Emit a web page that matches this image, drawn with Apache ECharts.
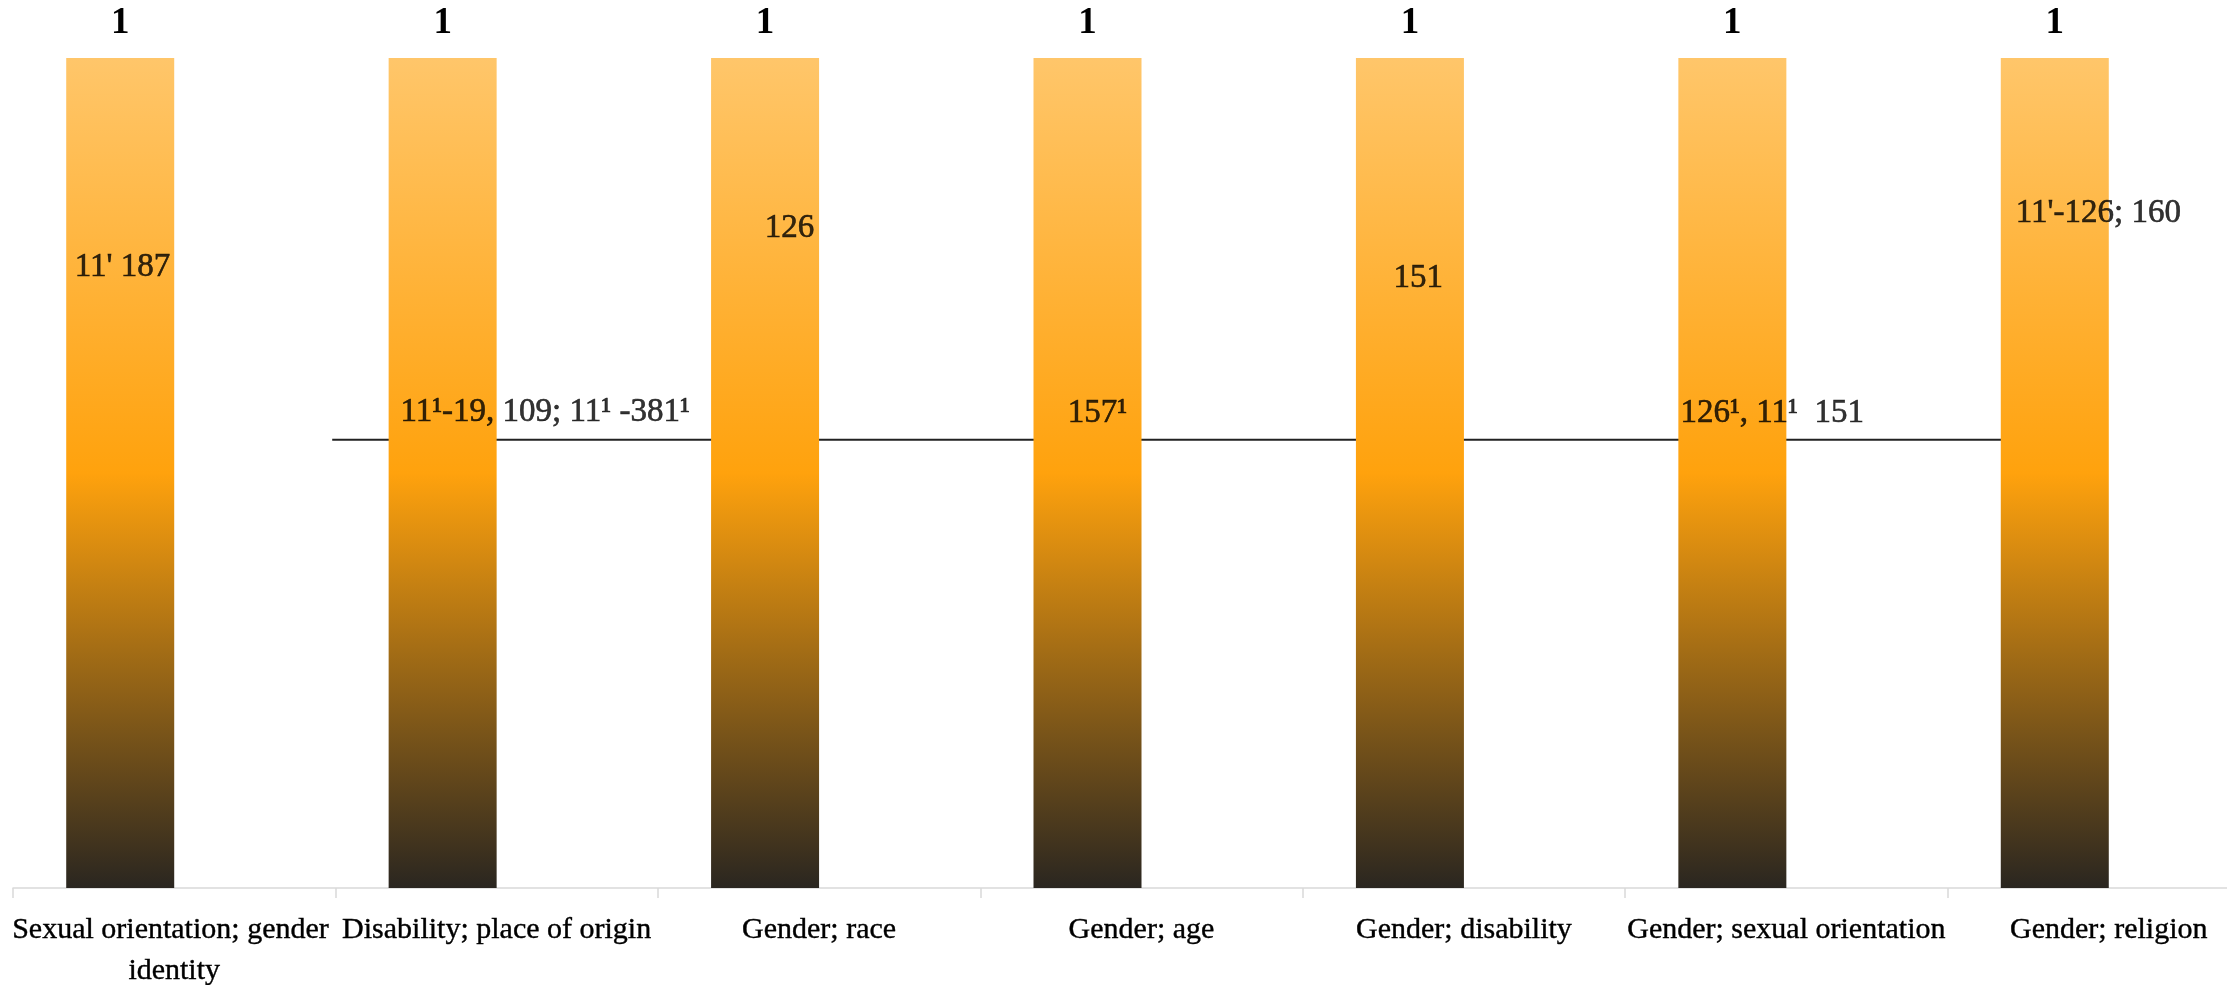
<!DOCTYPE html>
<html>
<head>
<meta charset="utf-8">
<script src="https://cdn.jsdelivr.net/npm/echarts@6/dist/echarts.min.js"></script>
<style>html,body{margin:0;padding:0;background:#fff;overflow:hidden}#c{width:2227px;height:985px}</style>
</head>
<body>
<div id="c"></div>
<script>
// ---- data ----
var categories = ['Sexual orientation; gender identity', 'Disability; place of origin', 'Gender; race', 'Gender; age', 'Gender; disability', 'Gender; sexual orientation', 'Gender; religion'];
var barValues = [1, 1, 1, 1, 1, 1, 1];
var noteTexts = ["11' 187", "11¹-19, 109; 11¹ -381¹", "126", "157¹", "151", "126¹, 11¹  151", "11'-126; 160"];
var refLineValue = 0.54;

// ---- layout (annotation anchors in category units / axis units) ----
var noteX = [0.19, 1.20, 2.33, 3.27, 4.28, 5.17, 6.21];
var noteY = [0.748, 0.573, 0.795, 0.572, 0.735, 0.572, 0.813];
var refLineSpan = [0.99, 6.3];

var FONT = '"Liberation Serif", "DejaVu Serif", serif';
var chart = echarts.init(document.getElementById('c'), null, {renderer: 'canvas'});

var notesData = noteTexts.map(function (t, i) { return {value: [noteX[i], noteY[i]], name: t}; });

chart.setOption({
  animation: false,
  backgroundColor: '#ffffff',
  grid: {left: 13, right: -43, top: 58, bottom: 97, containLabel: false, outerBoundsMode: 'none'},
  xAxis: [{
    type: 'category',
    data: categories,
    boundaryGap: true,
    axisLine: {show: true, lineStyle: {color: '#D9D9D9', width: 1.5}},
    axisTick: {show: true, length: 10, lineStyle: {color: '#D9D9D9', width: 1.5}},
    axisLabel: {
      interval: 0, color: '#000', fontFamily: FONT, fontSize: 30, lineHeight: 41, margin: 22,
      width: 330, overflow: 'break', textBorderColor: '#000', textBorderWidth: 0.4
    },
    splitLine: {show: false}
  }, {
    type: 'value', min: 0, max: 7, show: false
  }],
  yAxis: {type: 'value', min: 0, max: 1, show: false, splitLine: {show: false}},
  series: [{
    type: 'line',
    xAxisIndex: 1,
    z: 1,
    symbol: 'none',
    silent: true,
    data: [[refLineSpan[0], refLineValue], [refLineSpan[1], refLineValue]],
    lineStyle: {color: '#222', width: 2}
  }, {
    type: 'bar',
    z: 2,
    data: barValues,
    barWidth: 108,
    barGap: '0%',
    itemStyle: {
      color: new echarts.graphic.LinearGradient(0, 0, 0, 1, [
        {offset: 0, color: '#FFC66A'},
        {offset: 0.5, color: '#FFA20D'},
        {offset: 1, color: '#2A2620'}
      ])
    },
    label: {
      show: true, position: 'top', distance: 16, color: '#000',
      fontFamily: FONT, fontSize: 37, fontWeight: 'bold'
    }
  }, {
    type: 'bar',
    z: 2,
    data: barValues.map(function () { return '-'; }),
    barWidth: 108
  }, {
    type: 'scatter',
    xAxisIndex: 1,
    z: 5,
    symbolSize: 1,
    itemStyle: {color: 'rgba(0,0,0,0)'},
    data: notesData,
    label: {
      show: true, position: 'right', distance: 0, color: '#000',
      fontFamily: FONT, fontSize: 33, textBorderColor: '#000', textBorderWidth: 0.6,
      formatter: function (p) { return p.name; }
    }
  }]
});
</script>
</body>
</html>
